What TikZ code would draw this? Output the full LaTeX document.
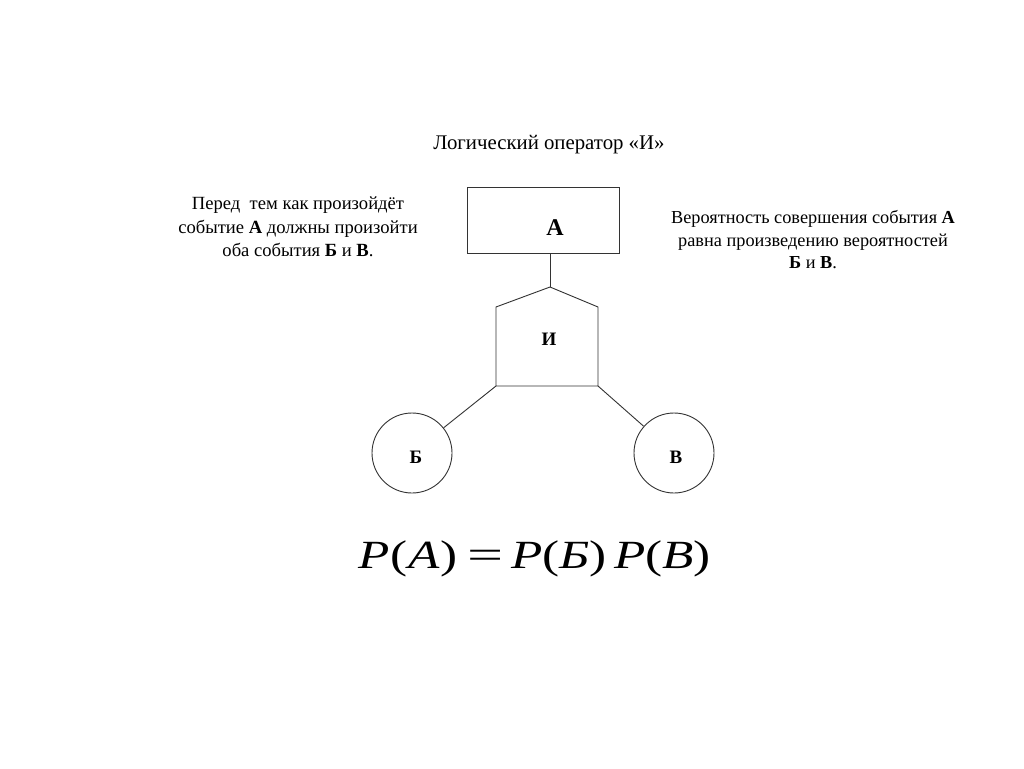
\documentclass[tikz,border=0pt]{standalone}
\usepackage{fontspec}
\setmainfont{Liberation Serif}
\begin{document}
\begin{tikzpicture}[x=1pt,y=-1pt,
  ln/.style={draw=black!80,line width=0.9pt},
  txt/.style={align=center,inner sep=0pt},
  lbl/.style={font=\fontsize{19}{20}\selectfont\bfseries,inner sep=0pt}]
\useasboundingbox[fill=white] (0,0) rectangle (1024,768);
\node[txt,font=\fontsize{20.8}{23}\selectfont] (title) at (549,145) {Логический оператор «И»};
\node[txt,font=\fontsize{18.6}{23.5}\selectfont] (lt) at (298,227) {Перед\ \ тем как произойдёт\\событие \textbf{А} должны произойти\\оба события \textbf{Б} и \textbf{В}.};
\node[txt,font=\fontsize{18.3}{22.5}\selectfont] (rt) at (813,240) {Вероятность совершения события \textbf{А}\\равна произведению вероятностей\\\textbf{Б} и \textbf{В}.};
\node[ln,minimum width=152pt,minimum height=66pt,inner sep=0pt] (A) at (543,220) {};
\node[font=\fontsize{24}{25}\selectfont\bfseries,inner sep=0pt] (Al) at (555,228) {А};
\coordinate (apex) at (550,287);
\coordinate (gl) at (496,386);
\coordinate (gr) at (598,386);
\draw[ln] (gl) -- (496,307) -- (apex) -- (598,307) -- (gr) -- cycle;
\node[lbl] (I) at (549,339) {И};
\draw[ln] (A.south -| apex) -- (apex);
\node[ln,circle,minimum size=80pt,inner sep=0pt] (B) at (412,453) {};
\node[lbl] (Bl) at (416,457) {Б};
\node[ln,circle,minimum size=80pt,inner sep=0pt] (V) at (674,453) {};
\node[lbl] (Vl) at (676,457) {В};
\draw[ln] (gl) -- (B);
\draw[ln] (gr) -- (V);
\node[font=\fontsize{40}{50}\selectfont,inner sep=0pt,anchor=base,xscale=1.28,transform shape] (f) at (535,568) {\textit{P}(\hspace{1pt}\textit{А})\hspace{8pt}\scalebox{1.25}[1]{=}\hspace{6pt}\textit{P}(\textit{Б})\hspace{6pt}\textit{P}(\textit{В})};
\end{tikzpicture}
\end{document}
